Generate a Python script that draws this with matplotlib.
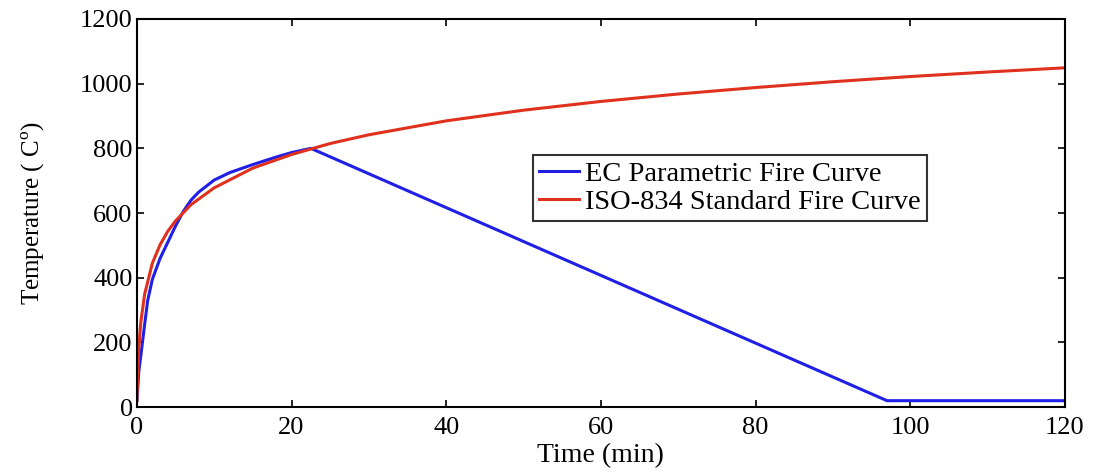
import numpy as np
import matplotlib.pyplot as plt

plt.rcParams['font.family'] = ['Liberation Serif', 'DejaVu Serif']
plt.rcParams['mathtext.fontset'] = 'custom'
plt.rcParams['mathtext.rm'] = 'Liberation Serif'

# EC parametric fire curve
ec_time = [0, 0.25, 0.6, 1.0, 1.4, 2.0, 3.0, 3.8, 5.0, 6.0, 7.0, 8.0, 10.0, 12.0,
           15.0, 18.0, 20.0, 22.5, 97.0, 120.0]
ec_temp = [20, 110, 177, 255, 330, 395, 460, 500, 560, 605, 640, 665, 702, 725,
           750, 773, 787, 800, 20, 20]

# ISO-834 standard fire curve
iso_time = [0, 0.25, 0.5, 1, 2, 3, 4, 5, 7, 10, 15, 20, 25, 30, 40, 50, 60, 70,
            80, 90, 100, 110, 120]
iso_temp = [20, 184, 261, 349, 445, 502, 544, 576, 626, 678, 739, 781, 815, 842,
            885, 918, 945, 968, 988, 1006, 1022, 1036, 1049]

fig = plt.figure(figsize=(10.95, 4.74), dpi=100)
ax = fig.add_axes([0.125, 0.141, 0.8475, 0.819])

ax.plot(ec_time, ec_temp, color='#1f1fe6', linewidth=2.2, label='EC Parametric Fire Curve')
ax.plot(iso_time, iso_temp, color='#e0311f', linewidth=2.2, label='ISO-834 Standard Fire Curve')

ax.set_xlim(0, 120)
ax.set_ylim(0, 1200)
ax.set_xticks(np.arange(0, 121, 20))
ax.set_yticks(np.arange(0, 1201, 200))
ax.tick_params(direction='in', top=True, right=True, labelsize=19, length=5, width=1.2)
ax.tick_params(axis='x', pad=7)
ax.tick_params(axis='y', pad=3)
for s in ax.spines.values():
    s.set_linewidth(1.5)

ax.set_xlabel('Time (min)', fontsize=20, labelpad=3)
ax.set_ylabel('Temperature ( C$^{\\mathrm{o}}$)', fontsize=18, labelpad=24)

leg = ax.legend(loc='upper left', bbox_to_anchor=(0.4267, 0.649), fontsize=20.5,
                frameon=True, fancybox=False, edgecolor='black', handlelength=1.4,
                handletextpad=0.2, borderpad=0.22, labelspacing=0.05, borderaxespad=0)
leg.get_frame().set_linewidth(1.5)

fig.savefig('out.png', dpi=100)
